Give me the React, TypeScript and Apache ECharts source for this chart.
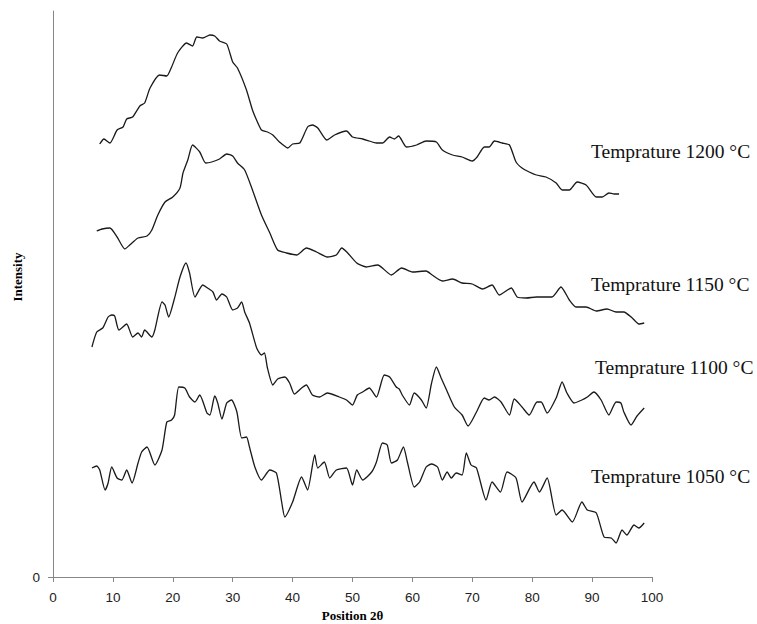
import React, { useEffect, useRef } from "react";
import * as echarts from "echarts";

// Position 2θ (deg) vs intensity (arbitrary, stacked offsets as in the figure)
const t1200: [number, number][] = [[7.8,433],[8.5,438],[9.5,434],[10.7,447],[11.7,450],[12.3,458],[13.3,460],[14.5,471],[15.3,474],[16.2,489],[17.8,502],[19.0,501],[19.8,510],[20.8,524],[22.3,534],[23.3,531],[24.0,540],[25.0,539],[26.2,542],[27.0,541],[27.8,536],[29.0,533],[30.0,515],[30.8,509],[32.3,487],[33.3,467],[34.2,454],[34.8,447],[35.8,445],[36.7,442],[37.8,435],[39.2,429],[40.0,433],[41.2,434],[42.5,450],[43.3,452],[44.2,449],[45.7,437],[47.0,442],[49.0,446],[50.0,440],[51.7,438],[52.8,436],[54.0,434],[55.0,434],[56.2,440],[57.0,438],[57.7,441],[59.0,430],[60.7,432],[62.3,436],[64.0,435],[65.0,427],[66.7,422],[68.3,420],[70.0,416],[70.8,420],[72.0,430],[72.8,430],[73.7,436],[75.0,434],[76.2,432],[77.3,415],[78.3,409],[79.5,405],[80.7,402],[82.3,400],[84.0,394],[85.0,387],[86.2,387],[87.5,395],[89.0,392],[90.7,380],[91.7,380],[92.8,384],[93.7,383],[94.5,383]];

const t1150: [number, number][] = [[7.3,346],[8.2,348],[9.5,349],[10.7,340],[12.0,328],[12.8,332],[14.2,339],[15.7,341],[16.5,347],[17.5,362],[18.7,375],[20.0,380],[21.2,389],[21.7,404],[22.5,417],[23.3,432],[24.5,425],[25.5,414],[26.5,415],[27.8,418],[29.0,423],[30.0,421],[30.8,414],[32.0,407],[33.3,387],[34.8,362],[36.2,344],[37.5,327],[39.0,324],[40.7,322],[42.3,329],[44.0,325],[45.8,320],[47.3,322],[48.2,329],[49.2,324],[50.7,314],[52.3,310],[54.2,312],[56.5,302],[58.2,309],[60.0,305],[62.3,306],[63.3,302],[65.0,296],[66.7,298],[68.3,294],[70.0,293],[71.7,288],[73.3,292],[74.5,282],[76.5,289],[77.5,280],[79.0,279],[80.7,280],[83.3,280],[84.8,290],[86.2,277],[87.3,270],[89.0,270],[90.7,266],[92.5,268],[94.0,265],[95.3,265],[96.7,259],[97.8,253],[98.7,254]];

const t1100: [number, number][] = [[6.5,230],[7.3,245],[8.3,249],[9.2,260],[9.8,262],[10.3,261],[11.0,247],[12.3,253],[13.3,240],[14.2,244],[14.8,240],[15.3,247],[16.5,240],[17.0,247],[18.2,275],[18.7,272],[19.3,260],[20.3,279],[21.2,300],[22.2,314],[22.8,304],[23.7,280],[25.0,292],[25.8,289],[26.7,285],[27.3,277],[28.2,283],[29.0,280],[30.0,267],[30.8,269],[31.5,275],[32.0,265],[32.8,254],[34.0,229],[34.8,222],[35.3,224],[35.8,209],[36.7,192],[37.5,198],[38.7,200],[39.5,194],[40.3,183],[41.5,189],[42.3,192],[43.3,182],[44.5,180],[45.8,184],[47.8,180],[49.0,177],[50.0,172],[50.8,182],[51.7,185],[52.8,189],[54.0,180],[55.3,202],[56.2,200],[57.3,190],[57.8,188],[58.3,182],[59.5,172],[60.3,184],[61.5,177],[62.3,169],[63.2,194],[64.0,210],[64.8,199],[65.7,187],[67.0,170],[68.3,162],[69.3,151],[70.7,165],[72.0,179],[72.8,177],[73.7,180],[74.8,175],[76.2,162],[77.0,178],[78.3,170],[79.5,162],[80.8,175],[81.5,175],[82.5,164],[84.0,179],[85.0,195],[85.8,184],[87.0,174],[88.3,177],[89.2,180],[90.3,185],[91.5,177],[92.8,162],[94.0,175],[94.8,174],[95.3,165],[96.5,152],[97.5,161],[98.7,169]];

const t1050: [number, number][] = [[6.5,109],[7.3,111],[7.8,107],[8.7,87],[9.2,94],[9.8,110],[10.7,99],[11.5,97],[12.3,107],[13.2,94],[14.2,114],[14.8,125],[15.7,130],[17.0,112],[18.2,127],[19.0,155],[19.8,157],[20.3,162],[21.0,190],[22.0,189],[22.8,180],[23.7,175],[24.5,182],[25.7,164],[26.2,162],[27.0,181],[27.5,174],[28.2,158],[29.0,174],[29.8,177],[30.7,165],[31.5,139],[32.3,140],[32.8,130],[33.7,110],[34.8,97],[36.2,107],[37.3,104],[38.2,74],[38.7,60],[40.0,75],[41.5,100],[42.5,87],[43.7,122],[44.2,109],[45.3,115],[46.2,99],[47.3,107],[49.0,109],[50.0,92],[50.7,107],[51.7,97],[53.2,105],[54.0,115],[55.0,134],[55.8,132],[56.5,114],[57.5,117],[58.5,130],[59.2,114],[60.3,90],[61.2,95],[62.3,110],[63.2,113],[64.2,110],[65.0,97],[65.8,105],[66.5,99],[67.3,104],[68.3,102],[69.0,124],[69.8,112],[70.7,109],[72.3,77],[73.3,95],[74.7,85],[75.8,105],[77.3,99],[78.3,75],[80.3,95],[81.2,85],[82.5,99],[84.0,62],[85.0,67],[86.7,55],[88.3,75],[89.2,67],[90.7,64],[92.0,40],[93.2,39],[94.0,34],[95.0,47],[95.8,42],[97.0,52],[97.8,49],[98.7,54]];

const seriesNames = ["Temprature 1200 °C", "Temprature 1150 °C", "Temprature 1100 °C", "Temprature 1050 °C"];
const seriesData = [t1200, t1150, t1100, t1050];
const xTicks = [0, 10, 20, 30, 40, 50, 60, 70, 80, 90, 100];

export default function App() {
  const ref = useRef<HTMLDivElement>(null);
  useEffect(() => {
    document.body.style.margin = "0";
    const chart = echarts.init(ref.current!, null, { renderer: "svg" });
    const labelPos = [
      { left: 591, top: 152 },
      { left: 591, top: 285 },
      { left: 595, top: 368 },
      { left: 591, top: 477 },
    ];
    chart.setOption({
      animation: false,
      backgroundColor: "#fff",
      grid: { left: 53, right: 105, top: 11, bottom: 47, outerBoundsMode: "none" },
      xAxis: {
        type: "value",
        min: xTicks[0],
        max: xTicks[xTicks.length - 1],
        interval: 10,
        name: "Position 2θ",
        nameLocation: "middle",
        nameGap: 31,
        nameTextStyle: { fontFamily: "Liberation Serif", fontWeight: "bold", fontSize: 13, color: "#000" },
        axisLine: { lineStyle: { color: "#868686", width: 1 } },
        axisTick: { show: true, length: 5, lineStyle: { color: "#868686" } },
        axisLabel: { fontFamily: "Liberation Sans", fontSize: 13.5, color: "#222", margin: 13 },
        splitLine: { show: false },
      },
      yAxis: {
        type: "value",
        min: 0,
        max: 566,
        axisLine: { show: true, lineStyle: { color: "#868686", width: 1 } },
        axisTick: { show: true, length: 5, customValues: [0], lineStyle: { color: "#868686" } },
        axisLabel: { customValues: [0], fontFamily: "Liberation Sans", fontSize: 13.5, color: "#222", margin: 13 },
        splitLine: { show: false },
      },
      series: seriesData.map((d, i) => ({
        name: seriesNames[i],
        type: "line",
        data: d,
        showSymbol: false,
        symbol: "none",
        smooth: 0.2,
        lineStyle: { color: "#1a1a1a", width: 1.3 },
        silent: true,
      })),
      graphic: [
        ...seriesNames.map((n, i) => ({
          type: "text",
          left: labelPos[i].left,
          top: labelPos[i].top - 11,
          style: { text: n, font: "19.5px 'Liberation Serif'", fill: "#111" },
        })),
        {
          type: "text",
          x: 17,
          y: 277,
          rotation: Math.PI / 2,
          style: {
            text: "Intensity",
            font: "bold 13px 'Liberation Serif'",
            fill: "#000",
            align: "center",
            verticalAlign: "middle",
          },
        },
      ],
    });
    return () => chart.dispose();
  }, []);
  return <div ref={ref} style={{ width: 757, height: 624 }} />;
}
